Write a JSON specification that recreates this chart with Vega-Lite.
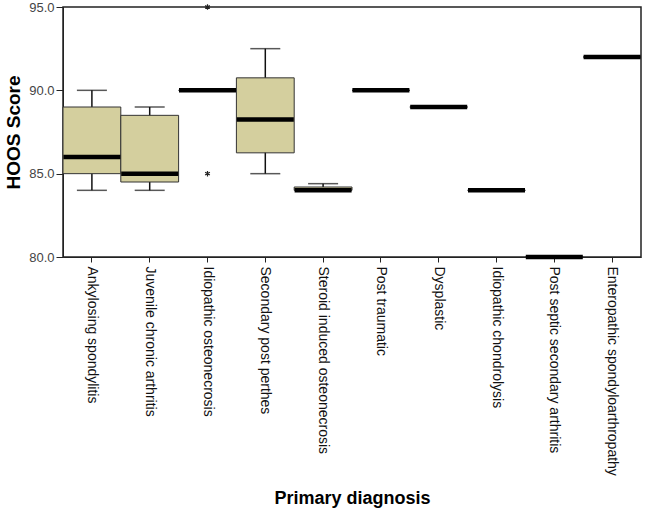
{
  "$schema": "https://vega.github.io/schema/vega-lite/v6.json",
  "autosize": {"type": "none"},
  "padding": {"left": 63, "top": 7, "right": 4, "bottom": 255},
  "width": 578,
  "height": 250,
  "background": "white",
  "config": {
    "view": {"stroke": "#222", "strokeWidth": 1.5},
    "font": "Liberation Sans"
  },
  "datasets": {
    "boxes": [
      {"diagnosis": "Ankylosing spondylitis", "lower": 84, "q1": 85, "median": 86, "q3": 89, "upper": 90},
      {"diagnosis": "Juvenile chronic arthritis", "lower": 84, "q1": 84.5, "median": 85, "q3": 88.5, "upper": 89},
      {"diagnosis": "Idiopathic osteonecrosis", "lower": 90, "q1": 90, "median": 90, "q3": 90, "upper": 90},
      {"diagnosis": "Secondary post perthes", "lower": 85, "q1": 86.25, "median": 88.25, "q3": 90.75, "upper": 92.5},
      {"diagnosis": "Steroid induced osteonecrosis", "lower": 84, "q1": 84, "median": 84, "q3": 84.2, "upper": 84.4},
      {"diagnosis": "Post traumatic", "lower": 90, "q1": 90, "median": 90, "q3": 90, "upper": 90},
      {"diagnosis": "Dysplastic", "lower": 89, "q1": 89, "median": 89, "q3": 89, "upper": 89},
      {"diagnosis": "Idiopathic chondrolysis", "lower": 84, "q1": 84, "median": 84, "q3": 84, "upper": 84},
      {"diagnosis": "Post septic secondary arthritis", "lower": 80, "q1": 80, "median": 80, "q3": 80, "upper": 80},
      {"diagnosis": "Enteropathic spondyloarthropathy", "lower": 92, "q1": 92, "median": 92, "q3": 92, "upper": 92}
    ],
    "outliers": [
      {"diagnosis": "Idiopathic osteonecrosis", "score": 85},
      {"diagnosis": "Idiopathic osteonecrosis", "score": 95}
    ]
  },
  "encoding": {
    "x": {
      "field": "diagnosis",
      "type": "nominal",
      "sort": ["Ankylosing spondylitis", "Juvenile chronic arthritis", "Idiopathic osteonecrosis", "Secondary post perthes", "Steroid induced osteonecrosis", "Post traumatic", "Dysplastic", "Idiopathic chondrolysis", "Post septic secondary arthritis", "Enteropathic spondyloarthropathy"],
      "scale": {"paddingInner": 0, "paddingOuter": 0},
      "title": "Primary diagnosis",
      "axis": {
        "labelAngle": 90,
        "labelAlign": "left",
        "labelBaseline": "middle",
        "labelFontSize": 14,
        "labelLimit": 0,
        "labelColor": "#111",
        "labelPadding": 4,
        "tickSize": 5,
        "tickColor": "#222",
        "domainColor": "#222",
        "titleFontSize": 18,
        "titleFontWeight": "bold",
        "titleColor": "#000",
        "titleX": 289,
        "titleY": 246,
        "titleBaseline": "alphabetic",
        "titleAlign": "center"
      }
    }
  },
  "layer": [
    {
      "data": {"name": "boxes"},
      "mark": {"type": "rule", "color": "#111", "strokeWidth": 1.5},
      "encoding": {
        "y": {
          "field": "lower",
          "type": "quantitative",
          "scale": {"domain": [80, 95], "nice": false, "zero": false},
          "title": "HOOS Score",
          "axis": {
            "values": [80, 85, 90, 95],
            "format": ".1f",
            "grid": false,
            "labelFontSize": 13,
            "labelColor": "#444",
            "labelPadding": 2,
            "tickSize": 7,
            "tickColor": "#222",
            "domainColor": "#222",
            "titleFontSize": 19,
            "titleFontWeight": "bold",
            "titleColor": "#000",
            "titleX": -50,
            "titleY": 125,
            "titleAngle": -90,
            "titleAlign": "center",
            "titleBaseline": "middle"
          }
        },
        "y2": {"field": "upper"}
      }
    },
    {
      "data": {"name": "boxes"},
      "mark": {"type": "tick", "color": "#111", "size": 30, "thickness": 1.5},
      "encoding": {"y": {"field": "lower", "type": "quantitative"}}
    },
    {
      "data": {"name": "boxes"},
      "mark": {"type": "tick", "color": "#111", "size": 30, "thickness": 1.5},
      "encoding": {"y": {"field": "upper", "type": "quantitative"}}
    },
    {
      "data": {"name": "boxes"},
      "mark": {"type": "bar", "fill": "#D4CF9E", "stroke": "#333", "strokeWidth": 1, "opacity": 1},
      "encoding": {
        "y": {"field": "q1", "type": "quantitative"},
        "y2": {"field": "q3"}
      }
    },
    {
      "data": {"name": "boxes"},
      "mark": {"type": "tick", "color": "#000", "size": 57, "thickness": 4.5, "opacity": 1},
      "encoding": {"y": {"field": "median", "type": "quantitative"}}
    },
    {
      "data": {"name": "outliers"},
      "mark": {
        "type": "point",
        "shape": "M0,-1L0,1M-0.87,-0.5L0.87,0.5M-0.87,0.5L0.87,-0.5",
        "filled": false,
        "stroke": "#222",
        "strokeWidth": 1.2,
        "size": 30,
        "opacity": 1
      },
      "encoding": {"y": {"field": "score", "type": "quantitative"}}
    }
  ]
}
